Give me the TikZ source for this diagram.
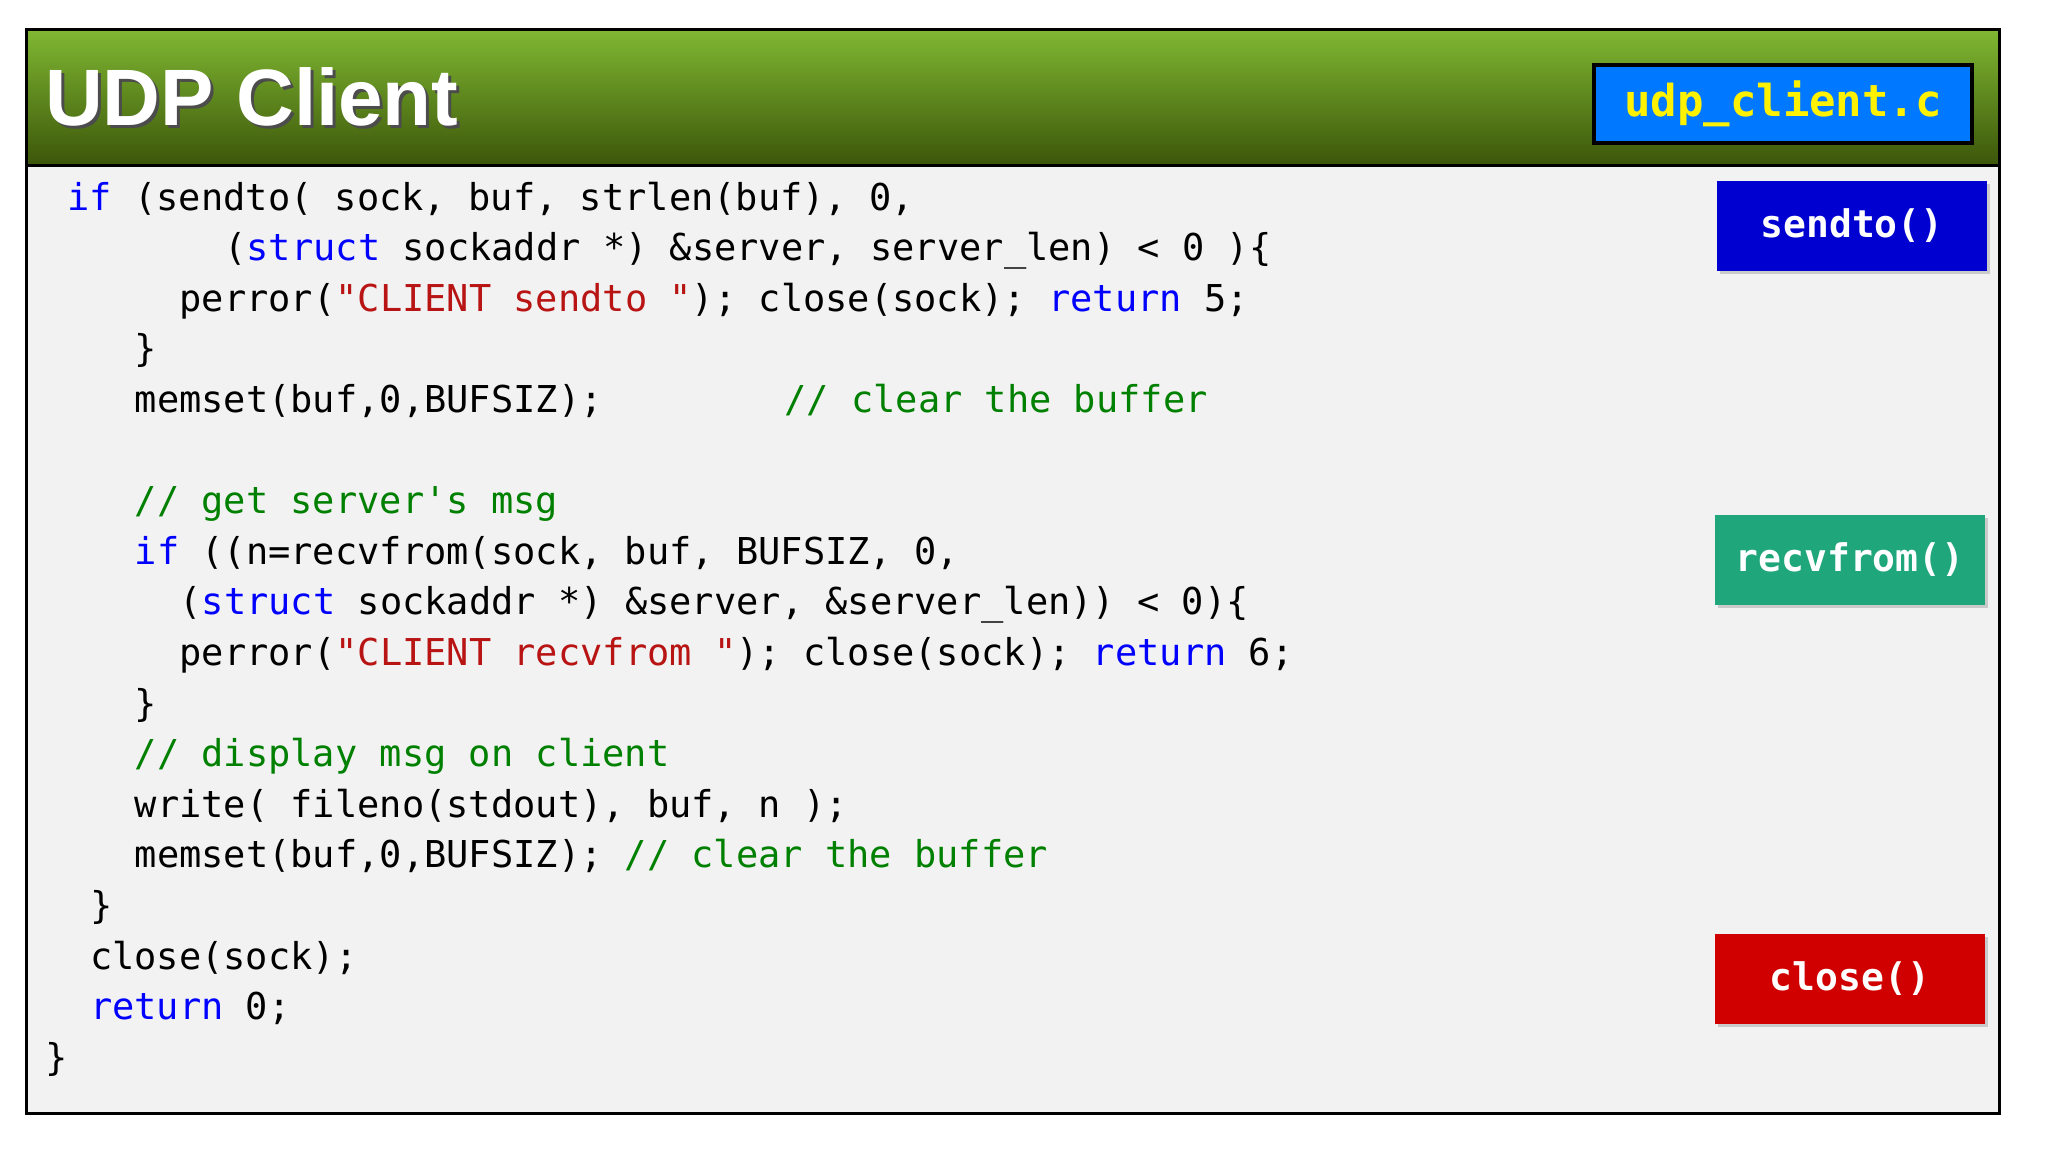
\documentclass[tikz,border=0pt]{standalone}
\usepackage{fontspec}
\usepackage{xcolor}
\setmainfont{Liberation Sans}
\newfontfamily\codefont{DejaVu Sans Mono}
\usetikzlibrary{positioning,shadows}

\definecolor{hdrlight}{HTML}{80B832}
\definecolor{hdrdark}{HTML}{3C560A}
\definecolor{bodygray}{HTML}{F2F2F2}
\definecolor{kwblue}{HTML}{0000FF}
\definecolor{strred}{HTML}{B81414}
\definecolor{cmtgreen}{HTML}{008000}
\definecolor{filebox}{HTML}{0078FF}
\definecolor{btnblue}{HTML}{0000D0}
\definecolor{btngreen}{HTML}{1FA67A}
\definecolor{btnred}{HTML}{D00000}

\newcommand{\kw}[1]{\textcolor{kwblue}{#1}}
\newcommand{\str}[1]{\textcolor{strred}{#1}}
\newcommand{\cmt}[1]{\textcolor{cmtgreen}{#1}}

\tikzset{
  codeline/.style={anchor=base west, inner sep=0pt, font=\codefont\fontsize{37}{44}\selectfont},
  button/.style={minimum width=270, minimum height=90, text=white,
    font=\codefont\bfseries\fontsize{38}{44}\selectfont, drop shadow={opacity=0.35}},
}

\begin{document}
\begin{tikzpicture}[x=1pt, y=-1pt]
\useasboundingbox (0,0) rectangle (2048,1152);
\fill[white] (0,0) rectangle (2048,1152);

% -------------------------
% Panel and header
% -------------------------
\fill[bodygray] (26,165) rectangle (1999,1113);
\shade[top color=hdrlight, bottom color=hdrdark] (26,29) rectangle (1999,165);
\draw[line width=3] (26,29) rectangle (1999,1113);
\draw[line width=3] (26,165) -- (1999,165);

\node[anchor=base west, inner sep=0pt, text=black!70, font=\bfseries\fontsize{80}{90}\selectfont] (titleshadow) at (48,128) {UDP Client};
\node[anchor=base west, inner sep=0pt, text=white, font=\bfseries\fontsize{80}{90}\selectfont] (title) at (45,125) {UDP Client};

\node[draw, line width=4, fill=filebox, text=yellow, minimum width=378, minimum height=78,
  font=\codefont\bfseries\fontsize{44}{50}\selectfont] (file) at (1783,104) {udp\_client.c};

% -------------------------
% Code lines
% -------------------------
\foreach \c/\t [count=\i] in {
  1/{\kw{if} (sendto( sock, buf, strlen(buf), 0,},
  8/{(\kw{struct} sockaddr *) \&server, server\_len) < 0 )\{},
  6/{perror(\str{"CLIENT sendto "}); close(sock); \kw{return} 5;},
  4/{\}},
  4/{memset(buf,0,BUFSIZ);},
  4/{},
  4/{\cmt{// get server\symbol{39}s msg}},
  4/{\kw{if} ((n=recvfrom(sock, buf, BUFSIZ, 0,},
  6/{(\kw{struct} sockaddr *) \&server, \&server\_len)) < 0)\{},
  6/{perror(\str{"CLIENT recvfrom "}); close(sock); \kw{return} 6;},
  4/{\}},
  4/{\cmt{// display msg on client}},
  4/{write( fileno(stdout), buf, n );},
  4/{memset(buf,0,BUFSIZ); \cmt{// clear the buffer}},
  2/{\}},
  2/{close(sock);},
  2/{\kw{return} 0;},
  0/{\}}}
  \node[codeline] (line\i) at ({45+22.4*\c}, {210+50.6*(\i-1)}) {\t};

\node[codeline] (cmtclear) at ({45+22.4*33}, {210+50.6*4}) {\cmt{// clear the buffer}};

% -------------------------
% Function buttons
% -------------------------
\node[button, fill=btnblue]  (btnsend)  at (1852,226) {sendto()};
\node[button, fill=btngreen] (btnrecv)  at (1850,560) {recvfrom()};
\node[button, fill=btnred]   (btnclose) at (1850,979) {close()};

\end{tikzpicture}
\end{document}
